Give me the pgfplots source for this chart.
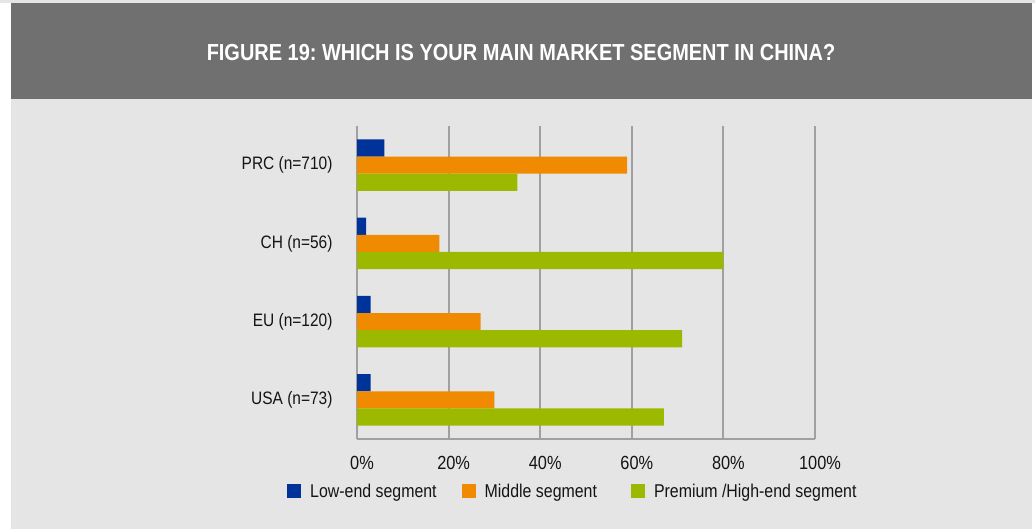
\documentclass[border=0pt]{standalone}
\usepackage{pgfplots}
\pgfplotsset{compat=1.18}
\usepackage{fontspec}
\setmainfont{Liberation Sans}[FakeStretch=0.86]
\definecolor{lowc}{RGB}{0,51,153}
\definecolor{midc}{RGB}{240,138,0}
\definecolor{highc}{RGB}{156,185,0}
\definecolor{hdr}{RGB}{112,112,112}
\definecolor{panel}{RGB}{229,229,229}
\definecolor{gridc}{RGB}{160,160,160}
\definecolor{txt}{RGB}{20,20,20}
\pgfplotsset{sqlegend/.style={legend image code/.code={\fill[##1] (0pt,-7pt) rectangle (14pt,7pt);}}}
\frenchspacing
\begin{document}
\begin{tikzpicture}
\path[use as bounding box] (0,0) rectangle (1035pt,-529pt);
\fill[white] (0,0) rectangle (1035pt,-529pt);
\fill[panel] (0,0) rectangle (1035pt,-3pt);
\fill[hdr] (11pt,-3pt) rectangle (1032pt,-99pt);
\fill[panel] (11pt,-99pt) rectangle (1032pt,-529pt);
\node[text=white, font=\fontsize{23.2}{27}\selectfont\bfseries] at (521pt,-53pt) {FIGURE 19: WHICH IS YOUR MAIN MARKET SEGMENT IN CHINA?};
\begin{axis}[
  at={(357pt,-439pt)}, anchor=south west,
  scale only axis, width=458pt, height=313pt,
  xmin=0, xmax=100, ymin=-0.5, ymax=3.5,
  xbar, bar width=0.22,
  ytick={0,1,2,3},
  yticklabels={USA (n=73), EU (n=120), CH (n=56), PRC (n=710)},
  xtick={0,20,40,60,80,100},
  xticklabel={\pgfmathprintnumber{\tick}\%},
  /pgf/number format/assume math mode=true,
  major tick length=0pt,
  xmajorgrids, grid style={gridc, line width=2pt},
  axis x line*=bottom, axis y line*=left,
  axis line style={gridc, line width=2pt},
  yticklabel style={font=\fontsize{18}{20}\selectfont, text=txt, xshift=-21pt},
  xticklabel style={font=\fontsize{19}{21}\selectfont, text=txt, xshift=5pt, yshift=-14pt},
  legend columns=3,
  legend style={at={(-0.1528,-0.1677)}, anchor=west, draw=none, fill=none,
    inner sep=0pt, font=\fontsize{18.5}{21}\selectfont, text=txt,
    column sep=9pt,
    nodes={inner sep=0pt}},
]
\addplot[fill=lowc, draw=none, bar shift=0.22, sqlegend]
  coordinates {(3,0) (3,1) (2,2) (6,3)};
\addplot[fill=midc, draw=none, bar shift=0, sqlegend]
  coordinates {(30,0) (27,1) (18,2) (59,3)};
\addplot[fill=highc, draw=none, bar shift=-0.22, sqlegend]
  coordinates {(67,0) (71,1) (80,2) (35,3)};
\legend{Low-end segment\kern16pt, Middle segment\kern25pt, Premium /High-end segment}
\end{axis}
\end{tikzpicture}
\end{document}
